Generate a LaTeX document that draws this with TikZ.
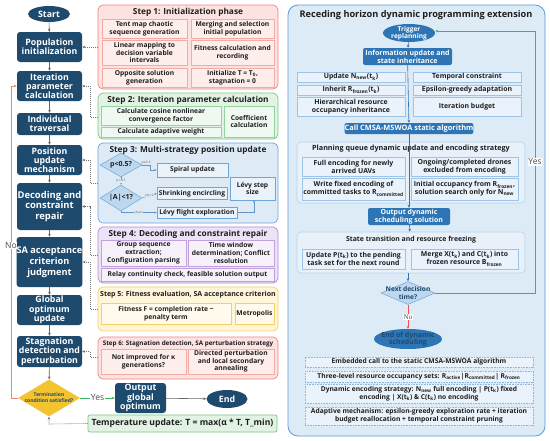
\documentclass[tikz,border=0pt]{standalone}
\usepackage{fontspec}
\setmainfont{Open Sans}
\newfontfamily\dejavu{DejaVu Sans}
\newfontfamily\serifface{Liberation Serif}
\usetikzlibrary{shapes.geometric,arrows.meta}
\newcommand\fsz[2]{\fontsize{#1}{#2}\selectfont}
\definecolor{navy}{RGB}{30,74,110}
\definecolor{btn}{RGB}{46,117,182}
\definecolor{rfill}{RGB}{252,226,224}
\definecolor{rdraw}{RGB}{238,135,128}
\definecolor{rcell}{RGB}{253,238,236}
\definecolor{gfill}{RGB}{226,243,228}
\definecolor{gdraw}{RGB}{120,200,135}
\definecolor{gcell}{RGB}{240,249,241}
\definecolor{bfill}{RGB}{222,235,247}
\definecolor{bdraw}{RGB}{110,166,218}
\definecolor{bcell}{RGB}{234,243,251}
\definecolor{bdia}{RGB}{189,215,238}
\definecolor{pfill}{RGB}{237,227,246}
\definecolor{pdraw}{RGB}{176,138,214}
\definecolor{pcell}{RGB}{246,240,251}
\definecolor{yfill}{RGB}{255,246,218}
\definecolor{ydraw}{RGB}{245,208,100}
\definecolor{ycell}{RGB}{255,250,236}
\definecolor{gold}{RGB}{244,196,48}
\definecolor{panel}{RGB}{221,235,247}
\definecolor{pdrawR}{RGB}{91,155,213}
\definecolor{sub}{RGB}{232,241,250}
\definecolor{txt}{RGB}{30,30,30}
\definecolor{yesg}{RGB}{60,180,100}
\definecolor{nor}{RGB}{240,130,120}
\tikzset{
  box/.style={rectangle, inner sep=0pt, align=center},
  navybox/.style={box, fill=navy, rounded corners=3pt, text=white, font=\bfseries\fsz{8.8}{9.3}},
  ovalnode/.style={ellipse, inner sep=0pt, fill=navy, text=white, align=center, font=\bfseries\fsz{8.8}{9.3}},
  stepbox/.style={box, rounded corners=5pt, line width=0.7pt},
  titletext/.style={font=\bfseries\fsz{8.3}{9.3}, text=txt, inner sep=0pt},
  cell/.style={box, line width=0.5pt, text=txt, font=\bfseries\fsz{6.7}{7.7}},
  rcellbox/.style={cell, fill=rcell, draw=rdraw!70},
  gcellbox/.style={cell, fill=gcell, draw=gdraw!80},
  bcellbox/.style={cell, fill=bcell, draw=bdraw},
  pcellbox/.style={cell, fill=pcell, draw=pdraw!80},
  ycellbox/.style={cell, fill=ycell, draw=ydraw},
  sdia/.style={diamond, inner sep=0pt, fill=bdia, draw=bdraw, line width=0.5pt},
  diatext/.style={inner sep=0pt, align=center, text=txt, font=\bfseries\fsz{7}{8}},
  tiny/.style={font=\dejavu\fsz{3}{3.5}, text=black!60, inner sep=0.3pt, fill=bfill},
  arr/.style={-{Stealth[length=3pt,width=2.6pt]}, line width=0.6pt, draw=black!60},
  sarr/.style={-{Stealth[length=2.4pt,width=2pt]}, line width=0.45pt, draw=bdraw!90!black},
  dots/.style={-{Stealth[length=3pt,width=2.6pt]}, line width=0.6pt, draw=black!55, dash pattern=on 1pt off 1pt},
  rbtn/.style={box, fill=btn, rounded corners=2pt, text=white, font=\bfseries\fsz{7}{8}},
  rcellR/.style={box, fill=bcell, draw=pdrawR!60, line width=0.45pt, text=txt, font=\bfseries\fsz{6.9}{8}},
  bottomcell/.style={rcellR, draw=pdrawR!70, dash pattern=on 1pt off 0.6pt, font=\bfseries\fsz{6.7}{7.8}},
  subpanel/.style={box, fill=sub, draw=pdrawR!45, line width=0.6pt, rounded corners=4pt},
  rarr/.style={-{Stealth[length=3pt,width=2.6pt]}, line width=0.6pt, draw=btn},
}
\begin{document}
\begin{tikzpicture}[x=1pt,y=-1pt]
\useasboundingbox (0,0) rectangle (550,440);
\fill[white] (0,0) rectangle (550,440);

% ---------------- Left column ----------------
\node[ovalnode, minimum width=42pt, minimum height=16pt] (start) at (49,14) {Start};
\node[navybox, minimum width=65pt, minimum height=30pt] (pop) at (49.5,47) {Population\\initialization};
\node[navybox, minimum width=65pt, minimum height=30pt] (iter) at (49.5,86) {Iteration\\parameter\\calculation};
\node[navybox, minimum width=65pt, minimum height=22pt] (indiv) at (49.5,124) {Individual\\traversal};
\node[navybox, minimum width=65pt, minimum height=30pt] (posu) at (49.5,160) {Position\\update\\mechanism};
\node[navybox, minimum width=65pt, minimum height=47pt, font=\bfseries\fsz{9.4}{10.4}] (dec) at (49.5,206.5) {Decoding and\\constraint\\repair};
\node[navybox, minimum width=65pt, minimum height=50pt, font=\bfseries\fsz{9.2}{10.8}] (sa) at (49.5,262) {SA acceptance\\criterion\\judgment};
\node[navybox, minimum width=65pt, minimum height=30pt] (glob) at (49.5,310) {Global\\optimum\\update};
\node[navybox, minimum width=65pt, minimum height=31pt] (stag) at (49.5,351.5) {Stagnation\\detection and\\perturbation};
\node[diamond, inner sep=0pt, minimum width=62pt, minimum height=37pt, fill=gold] (term) at (49,398) {};
\node[inner sep=0pt, text=navy, font=\bfseries\fsz{5}{6}, align=center] (termt) at (term) {Termination\\condition satisfied?};
\node[navybox, minimum width=51pt, minimum height=30pt] (out) at (140.5,398) {Output\\global\\optimum};
\node[ovalnode, minimum width=41pt, minimum height=18pt] (endn) at (227,399) {End};
\node[box, minimum width=189pt, minimum height=17pt, fill=gfill, draw=gdraw, line width=0.7pt, rounded corners=2pt, font=\bfseries\fsz{8.6}{9.6}, text=txt] (temp) at (182.5,423.5) {Temperature update: T = max(α * T, T\_min)};

\draw[arr] (start) -- (pop);
\draw[arr] (pop) -- (iter);
\draw[arr] (iter) -- (indiv);
\draw[arr] (indiv) -- (posu);
\draw[arr] (posu) -- (dec);
\draw[arr] (dec) -- (sa);
\draw[arr] (sa) -- (glob);
\draw[arr] (glob) -- (stag);
\draw[arr] (stag) -- (term);
\draw[arr] (out) -- (endn);
\draw[-{Stealth[length=3pt,width=2.6pt]}, line width=0.6pt, draw=yesg] (term.east) -- node[fill=white, inner sep=0.5pt, text=black!70, font=\fsz{8.5}{9}] {Yes} (out.west);
\coordinate (nob) at (11,398);
\coordinate (not) at (11,86);
\draw[-{Stealth[length=3pt,width=2.6pt]}, line width=0.7pt, draw=nor] (term.west) -- (nob) -- node[pos=0.49, fill=white, inner sep=0.5pt, text=black!70, font=\fsz{8.5}{9}] {No} (not) -- (iter.west);
\coordinate (tc) at (49,424);
\draw[dots] (temp.west) -- (tc) -- (term.south);

% ---------------- Step 1 ----------------
\node[stepbox, fill=rfill, draw=rdraw, minimum width=180pt, minimum height=84pt] (s1) at (188,47) {};
\node[titletext] (t1) at (188,12) {Step 1: Initialization phase};
\node[rcellbox, minimum width=85pt, minimum height=19pt] (c11) at (144.5,28.5) {Tent map chaotic\\sequence generation};
\node[rcellbox, minimum width=83pt, minimum height=19pt] (c12) at (232.5,28.5) {Merging and selection\\initial population};
\node[rcellbox, minimum width=85pt, minimum height=25pt] (c21) at (144.5,52.5) {Linear mapping to\\decision variable\\intervals};
\node[rcellbox, minimum width=83pt, minimum height=25pt] (c22) at (232.5,52.5) {Fitness calculation and\\recording};
\node[rcellbox, minimum width=85pt, minimum height=19pt] (c31) at (144.5,77.5) {Opposite solution\\generation};
\node[rcellbox, minimum width=83pt, minimum height=19pt] (c32) at (232.5,77.5) {Initialize T = T\textsubscript{0},\\stagnation = 0};

% ---------------- Step 2 ----------------
\node[stepbox, fill=gfill, draw=gdraw, minimum width=180pt, minimum height=46pt] (s2) at (188,116) {};
\node[titletext] (t2) at (188,100) {Step 2: Iteration parameter calculation};
\node[gcellbox, minimum width=120pt, minimum height=19pt] (g1) at (161,115.5) {Calculate cosine nonlinear\\convergence factor};
\node[gcellbox, minimum width=120pt, minimum height=10pt] (g2) at (161,132) {Calculate adaptive weight};
\node[gcellbox, minimum width=50pt, minimum height=31pt] (g3) at (249,121.5) {Coefficient\\calculation};

% ---------------- Step 3 ----------------
\node[stepbox, fill=bfill, draw=bdraw, minimum width=180pt, minimum height=80pt] (s3) at (188,183) {};
\node[titletext] (t3) at (188,150) {Step 3: Multi-strategy position update};
\node[sdia, minimum width=42pt, minimum height=24pt] (d1) at (121,165) {};
\node[diatext] (d1t) at (d1) {p<0.5?};
\node[sdia, minimum width=42pt, minimum height=26pt] (d2) at (121,198) {};
\node[diatext] (d2t) at (d2) {|A|<1?};
\node[bcellbox, minimum width=71pt, minimum height=14pt] (spiral) at (192.5,170) {Spiral update};
\node[bcellbox, minimum width=70pt, minimum height=12pt] (shrink) at (192,193.5) {Shrinking encircling};
\node[bcellbox, minimum width=80pt, minimum height=11pt] (levy) at (197,212.5) {Lévy flight exploration};
\node[bcellbox, minimum width=45pt, minimum height=23pt] (lstep) at (252.5,188.5) {Lévy step\\size};
\coordinate (k1) at (150,165);
\draw[sarr] (d1.east) -- node[tiny, above=0.4pt] {p≥0.5} (k1) |- (spiral.west);
\draw[sarr] (d1.south) -- node[tiny] {p<0.5} (d2.north);
\draw[sarr] (d2.east) -- node[tiny] {|A|<1} (shrink.west);
\coordinate (k2) at (121,212.5);
\draw[sarr] (d2.south) -- (k2) -- node[tiny] {|A|≥1} (levy.west);
\coordinate (k3) at (254,212.5);
\draw[sarr] (levy.east) -- (k3) -- (lstep.south -| k3);

% ---------------- Step 4 ----------------
\node[stepbox, fill=pfill, draw=pdraw, minimum width=180pt, minimum height=56pt] (s4) at (188,255) {};
\node[titletext] (t4) at (188,234) {Step 4: Decoding and constraint repair};
\node[pcellbox, minimum width=85pt, minimum height=26pt] (p1) at (143.5,253) {Group sequence\\extraction;\\Configuration parsing};
\node[pcellbox, minimum width=86pt, minimum height=26pt] (p2) at (231,253) {Time window\\determination; Conflict\\resolution};
\node[pcellbox, minimum width=173pt, minimum height=13pt] (p3) at (187.5,274.5) {Relay continuity check, feasible solution output};

% ---------------- Step 5 ----------------
\node[stepbox, fill=yfill, draw=ydraw, minimum width=180pt, minimum height=44pt] (s5) at (188,309) {};
\node[titletext, font=\bfseries\fsz{7}{8}] (t5) at (188,295) {Step 5: Fitness evaluation, SA acceptance criterion};
\node[ycellbox, minimum width=130pt, minimum height=21pt] (y1) at (166,313.5) {Fitness F = completion rate −\\penalty term};
\node[ycellbox, minimum width=39pt, minimum height=21pt] (y2) at (254.5,313.5) {Metropolis};

% ---------------- Step 6 ----------------
\node[stepbox, fill=rfill, draw=rdraw, minimum width=180pt, minimum height=42pt] (s6) at (188,358) {};
\node[titletext, font=\bfseries\fsz{6.3}{7}] (t6) at (188,344) {Step 6: Stagnation detection, SA perturbation strategy};
\node[rcellbox, minimum width=85pt, minimum height=25pt] (r1) at (143.5,361.5) {Not improved for κ\\generations?};
\node[rcellbox, minimum width=86pt, minimum height=25pt] (r2) at (231,361.5) {Directed perturbation\\and local secondary\\annealing};

% ---------------- dotted connectors ----------------
\draw[dots] (s1.west |- pop) -- (pop.east);
\coordinate (e2) at (90,117);
\draw[dots] (s2.west |- e2) -- (e2) |- (iter.east);
\coordinate (e3) at (90,183);
\draw[dots] (s3.west |- e3) -- (e3) |- (posu.east);
\coordinate (e4) at (90,255);
\draw[dots] (s4.west |- e4) -- (e4) |- (dec.east);
\coordinate (e5) at (90,309);
\draw[dots] (s5.west |- e5) -- (e5) |- (sa.east);
\coordinate (e6) at (90,357);
\draw[dots] (s6.west |- e6) -- (e6) |- (stag.east);

% ---------------- Right panel ----------------
\node[box, fill=panel, draw=pdrawR, line width=0.8pt, rounded corners=10pt, minimum width=257pt, minimum height=431pt] (rp) at (416.5,220.5) {};
\node[titletext, font=\bfseries\fsz{9.2}{10}] (rt) at (416,15) {Receding horizon dynamic programming extension};
\node[ellipse, inner sep=0pt, fill=btn, minimum width=52pt, minimum height=18pt] (trig) at (409,33) {};
\node[inner sep=0pt, text=white, font=\bfseries\fsz{6.6}{7.2}, align=center] (trigt) at (trig) {Trigger\\replanning};
\node[rbtn, minimum width=89pt, minimum height=17pt] (info) at (407.5,56.5) {Information update and\\state inheritance};
\node[rcellR, minimum width=108pt, minimum height=10pt] (u1) at (351,77) {Update N\textsubscript{new}(t\textsubscript{k})};
\node[rcellR, minimum width=108pt, minimum height=10pt] (u2) at (351,90) {Inherit R\textsubscript{frozen}(t\textsubscript{k})};
\node[rcellR, minimum width=108pt, minimum height=19pt] (u3) at (351,106.5) {Hierarchical resource\\occupancy inheritance};
\node[rcellR, minimum width=108pt, minimum height=10pt] (v1) at (467,77) {Temporal constraint};
\node[rcellR, minimum width=108pt, minimum height=10pt] (v2) at (467,90) {Epsilon-greedy adaptation};
\node[rcellR, minimum width=108pt, minimum height=19pt] (v3) at (467,106.5) {Iteration budget};
\node[rbtn, minimum width=128pt, minimum height=11pt, font=\bfseries\fsz{7.4}{8}] (call) at (409,128.5) {Call CMSA-MSWOA static algorithm};

\node[subpanel, minimum width=228pt, minimum height=61pt] (plan) at (411,172.5) {};
\node[titletext, font=\bfseries\fsz{7.2}{8}] (plt) at (411,148.5) {Planning queue dynamic update and encoding strategy};
\node[rcellR, minimum width=103pt, minimum height=19pt] (q1) at (353.5,166.5) {Full encoding for newly\\arrived UAVs};
\node[rcellR, minimum width=107pt, minimum height=19pt] (q2) at (464.5,166.5) {Ongoing/completed drones\\excluded from encoding};
\node[rcellR, minimum width=103pt, minimum height=22pt] (q3) at (353.5,189) {Write fixed encoding of\\committed tasks to R\textsubscript{committed}};
\node[rcellR, minimum width=107pt, minimum height=22pt] (q4) at (464.5,189) {Initial occupancy from R\textsubscript{frozen},\\solution search only for N\textsubscript{new}};

\node[rbtn, minimum width=82pt, minimum height=17pt] (outd) at (409,216.5) {Output dynamic\\scheduling solution};

\node[subpanel, minimum width=228pt, minimum height=41pt] (state) at (411,252.5) {};
\node[titletext, font=\bfseries\fsz{6.9}{8}] (stt) at (411,240) {State transition and resource freezing};
\node[rcellR, minimum width=103pt, minimum height=20pt] (w1) at (353.5,259) {Update P(t\textsubscript{k}) to the pending\\task set for the next round};
\node[rcellR, minimum width=107pt, minimum height=20pt] (w2) at (464.5,259) {Merge X(t\textsubscript{k}) and C(t\textsubscript{k}) into\\frozen resource B\textsubscript{frozen}};

\node[diamond, inner sep=0pt, minimum width=54pt, minimum height=23pt, fill=bdia, draw=bdraw, line width=0.5pt] (next) at (408,293) {};
\node[inner sep=0pt, text=navy, font=\bfseries\fsz{6.6}{7.2}, align=center] (nextt) at (next) {Next decision\\time?};
\node[ellipse, inner sep=0pt, fill=btn, minimum width=68pt, minimum height=20pt] (endd) at (408,339) {};
\node[inner sep=0pt, text=navy, font=\bfseries\fsz{7}{7.3}, align=center] (enddt) at (endd) {End of dynamic\\scheduling};

\node[bottomcell, minimum width=228pt, minimum height=10pt] (b1) at (419,362) {Embedded call to the static CMSA-MSWOA algorithm};
\node[bottomcell, minimum width=228pt, minimum height=11pt] (b2) at (419,376.5) {Three-level resource occupancy sets: R\textsubscript{active}|R\textsubscript{committed}| R\textsubscript{frozen}};
\node[bottomcell, minimum width=228pt, minimum height=19pt] (b3) at (419,393.5) {Dynamic encoding strategy: N\textsubscript{new} full encoding | P(t\textsubscript{k}) fixed\\encoding | X(t\textsubscript{k}) \& C(t\textsubscript{k}) no encoding};
\node[bottomcell, minimum width=228pt, minimum height=18pt] (b4) at (419,416) {Adaptive mechanism: epsilon-greedy exploration rate + iteration\\budget reallocation + temporal constraint pruning};

\draw[rarr] (trig) -- (info);
\draw[rarr] (info) -- (call);
\draw[rarr] (call) -- (outd);
\draw[rarr] (outd) -- (state);
\draw[rarr] (state.south -| next) -- (next.north);
\draw[-{Stealth[length=3pt,width=2.6pt]}, line width=0.6pt, draw=red!70] (next.south) -- node[pos=0.5, fill=white, inner sep=0.6pt, text=black!70, font=\serifface\fsz{7}{8}] {No} (endd.north);
\coordinate (ya) at (535,293);
\coordinate (yb) at (535,31);
\draw[-{Stealth[length=3pt,width=2.6pt]}, line width=0.7pt, draw=yesg] (next.east) -- (ya) -- node[pos=0.5, fill=white, inner sep=0.6pt, text=black!70, font=\fsz{8.5}{9}] {Yes} (yb) -- (trig.east |- yb);
\end{tikzpicture}
\end{document}
